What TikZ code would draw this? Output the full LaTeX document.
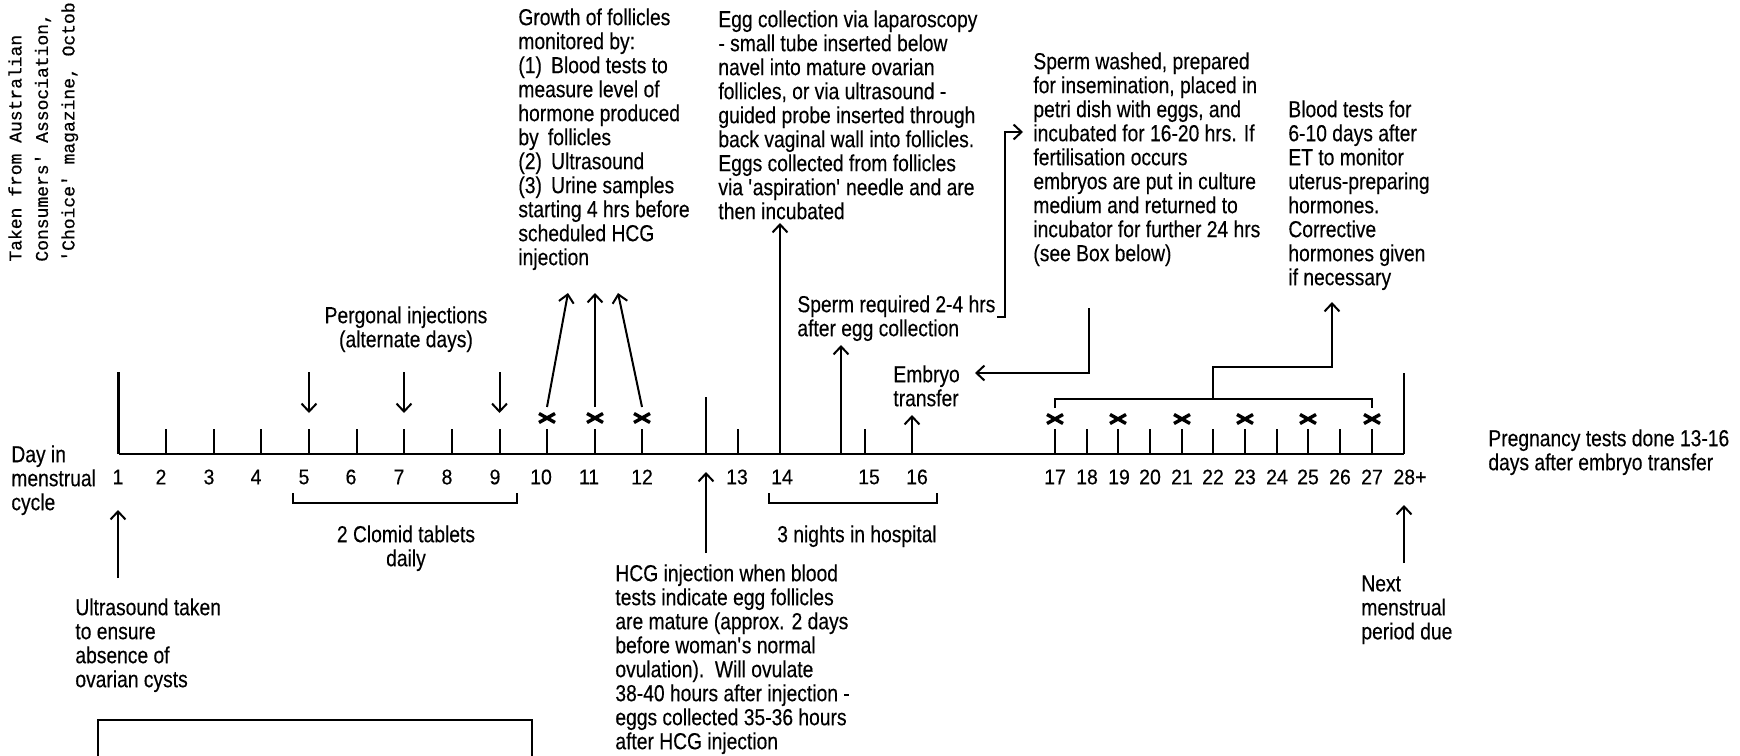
\documentclass[tikz,border=0pt]{standalone}
\usepackage{fontspec}
\setmainfont{Liberation Sans}[FakeStretch=0.83,FakeBold=0.3]
\newfontfamily\numfont{Liberation Sans}[FakeStretch=0.92,FakeBold=0.3]
\newfontfamily\srcfont{Liberation Mono}[FakeBold=0.6]
\usetikzlibrary{arrows.meta}
\begin{document}
\begin{tikzpicture}[x=0.5pt,y=-0.5pt,
  every node/.style={inner sep=0pt, font=\fontsize{11.6}{12}\selectfont},
  txt/.style={align=left, anchor=north west},
  ctxt/.style={align=center, anchor=north},
  numlab/.style={font=\numfont\fontsize{10.6}{12}\selectfont},
  ln/.style={line width=1pt},
  base/.style={line width=1.3pt},
  arr/.style={line width=1pt, -{Straight Barb[length=4pt,width=7.5pt,line width=1pt]}},
  crs/.style={line width=1.7pt}]
\useasboundingbox (0,0) rectangle (1740,755);

% source note (rotated)
\node[rotate=90, anchor=north west, align=left, font=\srcfont\fontsize{9}{13.25}\selectfont] (src) at (8,262)
  {Taken from Australian\\Consumers' Association,\\'Choice' magazine, Octob};

% ---------- axis ----------
\coordinate (a0) at (118.6,454);
\coordinate (a1) at (1404,454);
\draw[base] (a0) -- (a1);
\draw[base] (a0) -- ++(0,-82);
\draw[base] (a1) -- ++(0,-81);

% short ticks
\foreach \n/\x in {2/166,3/213.5,4/261,5/309,6/356.5,7/404,8/451.5,9/499.5,10/547,11/595,12/642,13/738,15/865,
  17/1055,18/1086.7,19/1118,20/1150,21/1182,22/1213,23/1245,24/1277,25/1308,26/1340,27/1372}{
  \coordinate (t\n) at (\x,454);
  \draw[ln] (t\n) -- ++(0,-25);
}
% HCG tick
\coordinate (thcg) at (706,454);
\draw[ln] (thcg) -- ++(0,-57);

% day labels
\foreach \l/\x [count=\i] in {1/118,2/161,3/209,4/256,5/304,6/351,7/399,8/447,9/495,10/541,11/589,12/642,13/737,14/782,15/869,16/917,
  17/1055,18/1087,19/1119,20/1150,21/1182,22/1213,23/1245,24/1277,25/1308,26/1340,27/1372,28+/1410}{
  \node[numlab] (lab\i) at (\x,477) {\l};
}

% crosses
\foreach \x/\y in {547/418,595/418,642/418,1055/419,1118/419,1182/419,1245/419,1308/419,1372/419}{
  \coordinate (c) at (\x,\y);
  \draw[crs] ([shift={(-8,-4.5)}]c) -- ([shift={(8,4.5)}]c);
  \draw[crs] ([shift={(-8,4.5)}]c) -- ([shift={(8,-4.5)}]c);
}

% ---------- left text ----------
\node[txt] (dayin) at (11,445) {Day in\\menstrual\\cycle};

% Pergonal injections
\node[ctxt] (perg) at (406,306) {Pergonal injections\\(alternate days)};
\foreach \x in {309,404,499.5}{
  \coordinate (pt) at (\x,372);
  \draw[arr] (pt) -- ++(0,41);
}

% Clomid bracket
\coordinate (cl1) at (293,493);
\coordinate (cl2) at (517,493);
\draw[ln] (cl1) -- ++(0,10) -| (cl2);
\node[ctxt] (clomid) at (406,525) {2 Clomid tablets\\daily};

% Ultrasound
\node[txt] (ultra) at (75,598) {Ultrasound taken\\to ensure\\absence of\\ovarian cysts};
\coordinate (u0) at (118,578);
\draw[arr] (u0) -- (118,510);

% box
\coordinate (bx1) at (98,760);
\coordinate (bx2) at (532,760);
\draw[ln] (bx1) -- (98,720) -- (532,720) -- (bx2);

% ---------- follicles ----------
\node[txt] (growth) at (518,8) {Growth of follicles\\monitored by:\\(1)\, Blood tests to\\measure level of\\hormone produced\\by\, follicles\\(2)\, Ultrasound\\(3)\, Urine samples\\starting 4 hrs before\\scheduled HCG\\injection};
\coordinate (f10) at (547,407);
\coordinate (f11) at (595,407);
\coordinate (f12) at (642,407);
\coordinate (g10) at (568,293);
\coordinate (g11) at (595,293);
\coordinate (g12) at (618,293);
\draw[arr] (f10) -- (g10);
\draw[arr] (f11) -- (g11);
\draw[arr] (f12) -- (g12);

% HCG
\node[txt] (hcg) at (615,564) {HCG injection when blood\\tests indicate egg follicles\\are mature (approx. 2 days\\before woman\textquotesingle s normal\\ovulation).\ \ Will ovulate\\38-40 hours after injection -\\eggs collected 35-36 hours\\after HCG injection};
\coordinate (h0) at (706,553);
\draw[arr] (h0) -- (706,472);

% hospital bracket
\coordinate (hb1) at (769,493);
\coordinate (hb2) at (937,493);
\draw[ln] (hb1) -- ++(0,10) -| (hb2);
\node[ctxt] (hosp) at (857,525) {3 nights in hospital};

% Egg collection
\node[txt] (egg) at (718,10) {Egg collection via laparoscopy\\- small tube inserted below\\navel into mature ovarian\\follicles, or via ultrasound -\\guided probe inserted through\\back vaginal wall into follicles.\\Eggs collected from follicles\\via \textquotesingle aspiration\textquotesingle\ needle and are\\then incubated};
\coordinate (e0) at (780,454);
\draw[arr] (e0) -- (780,223);

% Sperm required
\node[txt] (spreq) at (797,295) {Sperm required 2-4 hrs\\after egg collection};
\coordinate (s0) at (841,454);
\draw[arr] (s0) -- (841,345);
\coordinate (sr1) at (997,317);
\coordinate (sr2) at (1023,132);
\draw[arr] (sr1) -- (1005,317) |- (sr2);

% Sperm washed
\node[txt] (spw) at (1033,52) {Sperm washed, prepared\\for insemination, placed in\\petri dish with eggs, and\\incubated for 16-20 hrs. If\\fertilisation occurs\\embryos are put in culture\\medium and returned to\\incubator for further 24 hrs\\(see Box below)};
\coordinate (sw0) at (1089,308);
\coordinate (et1) at (975,373);
\draw[arr] (sw0) |- (et1);

% Embryo transfer
\node[txt] (emb) at (893,365) {Embryo\\transfer};
\coordinate (em0) at (912,454);
\draw[arr] (em0) -- (912,415);

% bracket 17-27
\coordinate (bk1) at (1055,408);
\coordinate (bk2) at (1372,408);
\draw[ln] (bk1) -- ++(0,-9) -| (bk2);
\coordinate (bm) at (1213,399);
\coordinate (bt) at (1332,302);
\draw[arr] (bm) -- (1213,367) -| (bt);

% Blood tests
\node[txt] (blood) at (1288,100) {Blood tests for\\6-10 days after\\ET to monitor\\uterus-preparing\\hormones.\\Corrective\\hormones given\\if necessary};

% Pregnancy
\node[txt] (preg) at (1488,429) {Pregnancy tests done 13-16\\days after embryo transfer};

% Next menstrual
\coordinate (n0) at (1404,563);
\draw[arr] (n0) -- (1404,505);
\node[txt] (next) at (1361,575) {Next\\menstrual\\period due};
\end{tikzpicture}
\end{document}
